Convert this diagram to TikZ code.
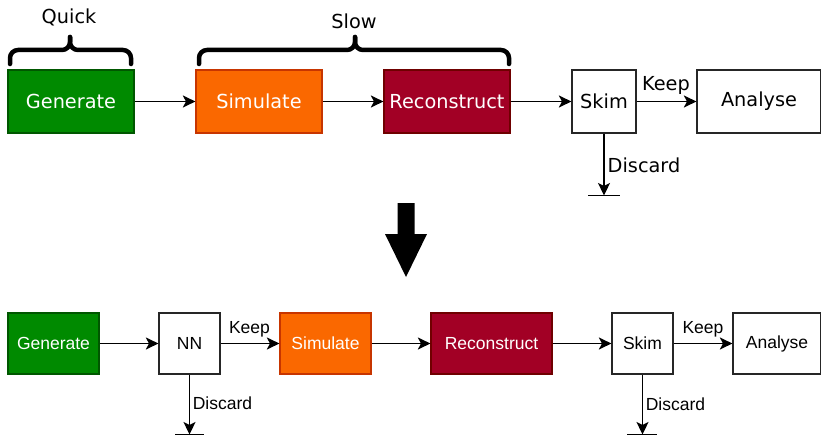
\documentclass[tikz,border=0pt]{standalone}
\usepackage{fontspec}
\newfontfamily\dejavu{DejaVu Sans}
\newfontfamily\libsans{Liberation Sans}
\usetikzlibrary{arrows.meta}
\definecolor{gengreen}{HTML}{008A00}
\definecolor{genborder}{HTML}{005700}
\definecolor{simorange}{HTML}{FA6800}
\definecolor{simborder}{HTML}{C73500}
\definecolor{recred}{HTML}{A20025}
\definecolor{recborder}{HTML}{6F0000}
\tikzset{
  box/.style={draw=black!85, line width=1.2pt, inner sep=0pt, anchor=center},
  topbox/.style={box, minimum height=63pt, font=\dejavu\fontsize{19.3}{22}\selectfont},
  botbox/.style={box, minimum height=61pt, font=\libsans\fontsize{17.5}{20}\selectfont},
  gen/.style={fill=gengreen, draw=genborder, text=white},
  sim/.style={fill=simorange, draw=simborder, text=white},
  rec/.style={fill=recred, draw=recborder, text=white},
  conn/.style={line width=1.4pt, -{Stealth[length=12.5pt, width=12pt, inset=3pt]}},
  toplbl/.style={inner sep=0pt, font=\dejavu\fontsize{19.3}{22}\selectfont},
  botlbl/.style={inner sep=0pt, font=\libsans\fontsize{17.5}{20}\selectfont},
  bracestyle/.style={line width=4.5pt, rounded corners=8pt, line cap=round},
  barline/.style={line width=1.5pt}
}
\begin{document}
\begin{tikzpicture}[x=1pt, y=-1pt]
\useasboundingbox (0,0) rectangle (821,436);
% top row
\node[topbox, gen, minimum width=126pt] (g1) at (71,101.5) {Generate};
\node[topbox, sim, minimum width=126pt] (s1) at (259,101.5) {Simulate};
\node[topbox, rec, minimum width=126pt] (r1) at (447,101.5) {Reconstruct};
\node[topbox, fill=white, minimum width=64pt] (k1) at (604,101.5) {Skim};
\node[topbox, fill=white, minimum width=124pt] (a1) at (759,101.5) {Analyse};
\draw[conn] (g1) -- (s1);
\draw[conn] (s1) -- (r1);
\draw[conn] (r1) -- (k1);
\draw[conn] (k1) -- (a1);
\node[toplbl] (keep1) at (666,85) {Keep};
\coordinate (d1) at (604,195.5);
\draw[conn] (k1.south) -- (d1);
\coordinate (d1l) at (588,195.5);
\coordinate (d1r) at (620,195.5);
\draw[barline] (d1l) -- (d1r);
\node[toplbl] (disc1) at (644,165) {Discard};
% braces
\draw[bracestyle] (10,64) -- (10,50) -- (70,50) -- (70,37);
\draw[bracestyle] (131,64) -- (131,50) -- (70,50) -- (70,37);
\node[toplbl] (quick) at (69,17) {Quick};
\draw[bracestyle] (199,64) -- (199,50) -- (355,50) -- (355,37);
\draw[bracestyle] (509,64) -- (509,50) -- (355,50) -- (355,37);
\node[toplbl] (slow) at (354,21) {Slow};
% big arrow
\fill[black] (397.5,203) -- (414.5,203) -- (414.5,234) -- (427,234) -- (406,277) -- (385,234) -- (397.5,234) -- cycle;
% bottom row
\node[botbox, gen, minimum width=91pt] (g2) at (53.5,343.5) {Generate};
\node[botbox, fill=white, minimum width=61pt] (n2) at (189.5,343.5) {NN};
\node[botbox, sim, minimum width=91pt] (s2) at (325.5,343.5) {Simulate};
\node[botbox, rec, minimum width=121pt] (r2) at (491.5,343.5) {Reconstruct};
\node[botbox, fill=white, minimum width=61pt] (k2) at (642.5,343.5) {Skim};
\node[botbox, fill=white, minimum width=88pt] (a2) at (777,343.5) {Analyse};
\draw[conn] (g2) -- (n2);
\draw[conn] (n2) -- (s2);
\draw[conn] (s2) -- (r2);
\draw[conn] (r2) -- (k2);
\draw[conn] (k2) -- (a2);
\node[botlbl] (keep2) at (249.5,329) {Keep};
\node[botlbl] (keep3) at (703,329) {Keep};
\coordinate (d2) at (189.5,434.5);
\draw[conn] (n2.south) -- (d2);
\coordinate (d2l) at (175,434.5);
\coordinate (d2r) at (204,434.5);
\draw[barline] (d2l) -- (d2r);
\node[botlbl] (disc2) at (222.5,403) {Discard};
\coordinate (d3) at (642.5,434.5);
\draw[conn] (k2.south) -- (d3);
\coordinate (d3l) at (627,434.5);
\coordinate (d3r) at (657,434.5);
\draw[barline] (d3l) -- (d3r);
\node[botlbl] (disc3) at (675.5,404) {Discard};
\end{tikzpicture}
\end{document}
